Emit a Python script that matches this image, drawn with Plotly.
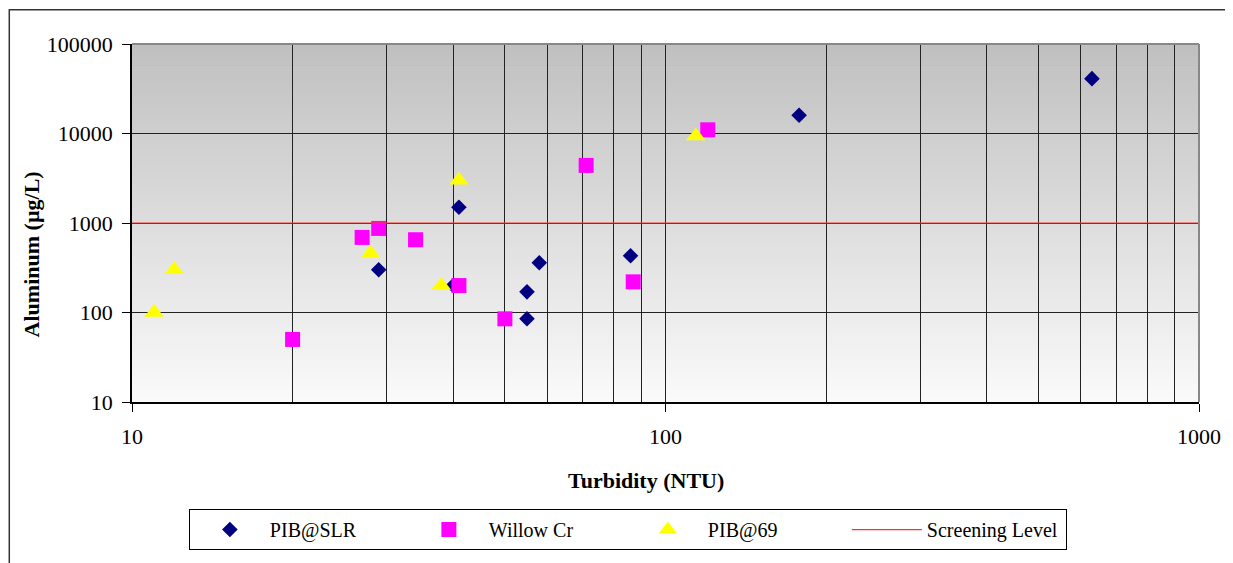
import plotly.graph_objects as go

# ---- data ----
slr_turb = [29, 41, 40, 55, 55, 58, 86, 178, 630]
slr_al = [300, 1500, 200, 170, 85, 360, 430, 16000, 41000]

willow_turb = [20, 27, 29, 34, 41, 50, 71, 87, 120]
willow_al = [50, 690, 870, 650, 200, 85, 4400, 220, 11000]

p69_turb = [11, 12, 28, 38, 41, 114]
p69_al = [100, 300, 460, 200, 3000, 9400]

screening_turb = [10, 1000]
screening_level = [1000, 1000]

y_tickvals = [10, 100, 1000, 10000, 100000]
y_ticktext = ["10", "100", "1000", "10000", "100000"]
x_tickvals = [10, 100, 1000]
x_ticktext = ["10", "100", "1000"]
x_minor_vals = [20, 30, 40, 50, 60, 70, 80, 90, 200, 300, 400, 500, 600, 700, 800, 900]

FONT = "Liberation Serif, Times New Roman, serif"

fig = go.Figure()
fig.add_trace(go.Scatter(x=slr_turb, y=slr_al, mode="markers", name="PIB@SLR",
                         marker=dict(symbol="diamond", size=12, color="#000080",
                                     line=dict(width=0))))
fig.add_trace(go.Scatter(x=willow_turb, y=willow_al, mode="markers", name="Willow Cr",
                         marker=dict(symbol="square", size=15, color="#FF00FF",
                                     line=dict(width=0))))
fig.add_trace(go.Scatter(x=p69_turb, y=p69_al, mode="markers", name="PIB@69",
                         marker=dict(symbol="triangle-up", size=17, color="#FFFF00",
                                     line=dict(width=0))))
fig.add_trace(go.Scatter(x=screening_turb, y=screening_level, mode="lines",
                         name="Screening Level",
                         line=dict(color="#FF3030", width=1.2)))

# vertical gradient background (grey at top, near white at bottom)
shapes = []
n = 120
top = (192, 192, 192)
bot = (250, 250, 250)
for i in range(n):
    t = i / (n - 1)
    c = tuple(int(round(bot[k] + (top[k] - bot[k]) * t)) for k in range(3))
    shapes.append(dict(type="rect", xref="x domain", yref="y domain",
                       x0=0, x1=1, y0=i / n, y1=(i + 1) / n + 0.002,
                       fillcolor="rgb(%d,%d,%d)" % c, line=dict(width=0),
                       layer="below"))
# grey plot border on top and right
shapes.append(dict(type="line", xref="x domain", yref="y domain", x0=0, x1=1, y0=1, y1=1,
                   line=dict(color="#888888", width=2), layer="above"))
shapes.append(dict(type="line", xref="x domain", yref="y domain", x0=1, x1=1, y0=0, y1=1,
                   line=dict(color="#888888", width=2), layer="above"))
# outer chart frame
shapes.append(dict(type="rect", xref="paper", yref="paper",
                   x0=-0.1150, x1=1.06, y0=-0.50, y1=1.096,
                   line=dict(color="#333333", width=1.5), fillcolor="rgba(0,0,0,0)",
                   layer="above"))

fig.update_layout(
    width=1225, height=555,
    margin=dict(l=124, r=29, t=36, b=161),
    paper_bgcolor="white",
    plot_bgcolor="white",
    font=dict(family=FONT, size=22, color="black"),
    shapes=shapes,
    showlegend=True,
    legend=dict(orientation="h", x=0.0533, y=-0.299, xanchor="left", yanchor="top",
                bgcolor="white", bordercolor="black", borderwidth=1,
                font=dict(family=FONT, size=20, color="black"),
                entrywidth=134, entrywidthmode="pixels", itemwidth=70),
    annotations=[
        dict(text="<b>Turbidity (NTU)</b>", xref="paper", yref="paper",
             x=0.482, y=-0.218, xanchor="center", yanchor="middle", showarrow=False,
             font=dict(family=FONT, size=22, color="black")),
        dict(text="<b>Aluminum (µg/L)</b>", xref="paper", yref="paper",
             x=-0.0944, y=0.413, xanchor="center", yanchor="middle", showarrow=False,
             textangle=-90, font=dict(family=FONT, size=22, color="black")),
    ],
)

fig.update_xaxes(type="log", range=[1, 3],
                 tickmode="array", tickvals=x_tickvals, ticktext=x_ticktext,
                 ticks="outside", ticklen=8, tickcolor="black", tickwidth=1,
                 ticklabelstandoff=6,
                 showline=True, linecolor="black", linewidth=1.5,
                 showgrid=True, gridcolor="#222222", gridwidth=1,
                 minor=dict(tickmode="array", tickvals=x_minor_vals, showgrid=True,
                            gridcolor="#222222", gridwidth=1, ticks=""),
                 zeroline=False)
fig.update_yaxes(type="log", range=[1, 5],
                 tickmode="array", tickvals=y_tickvals, ticktext=y_ticktext,
                 ticks="outside", ticklen=8, tickcolor="black", tickwidth=1,
                 ticklabelstandoff=5,
                 showline=True, linecolor="black", linewidth=1.5,
                 showgrid=True, gridcolor="#222222", gridwidth=1,
                 zeroline=False)

fig.write_html("out.html")
